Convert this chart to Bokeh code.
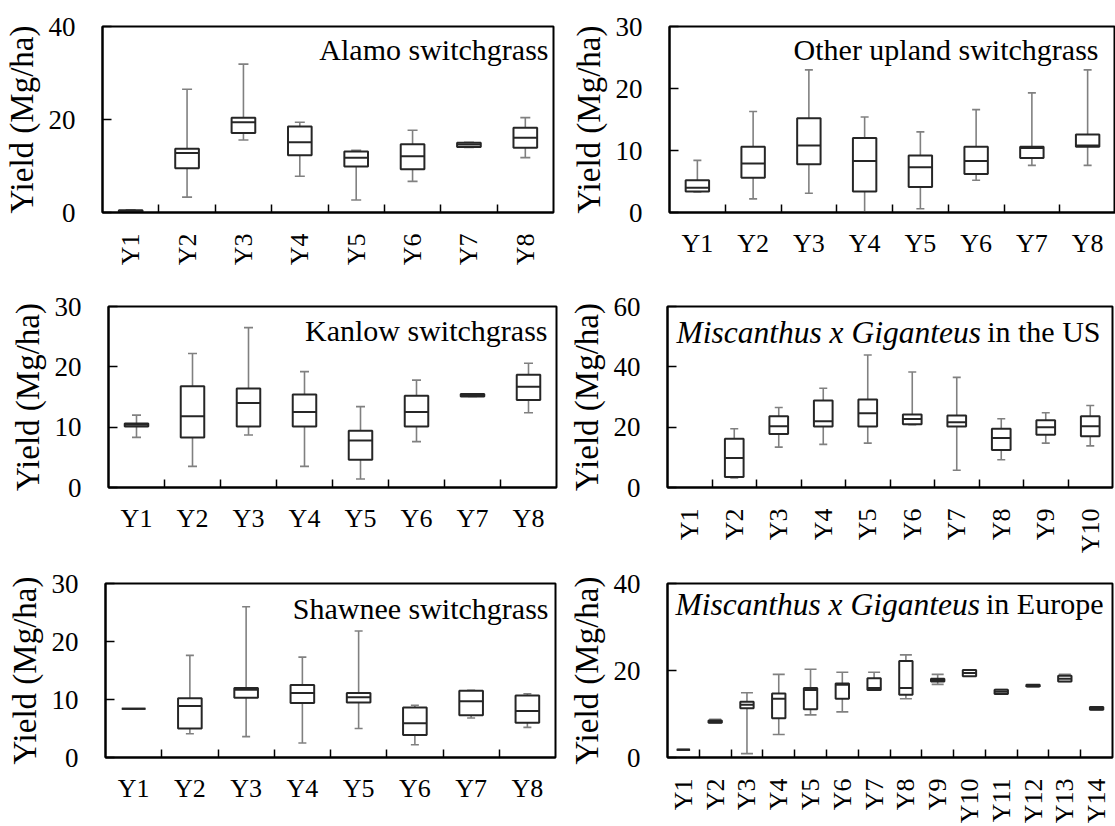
import numpy as np
from bokeh.plotting import figure
from bokeh.models import FixedTicker, Label, ColumnDataSource, Range1d
from bokeh.layouts import column, row
from bokeh.embed import file_html
from bokeh.resources import INLINE

FONT = "'Liberation Serif', 'Times New Roman', serif"

# ---------------- data (Mg/ha) ----------------
years8 = ["Y1", "Y2", "Y3", "Y4", "Y5", "Y6", "Y7", "Y8"]
years10 = ["Y1", "Y2", "Y3", "Y4", "Y5", "Y6", "Y7", "Y8", "Y9", "Y10"]
years14 = ["Y1", "Y2", "Y3", "Y4", "Y5", "Y6", "Y7", "Y8", "Y9", "Y10",
           "Y11", "Y12", "Y13", "Y14"]

alamo_lo = [0.0, 3.3, 15.6, 7.8, 2.7, 6.7, 14.0, 11.8]
alamo_q1 = [0.0, 9.5, 17.1, 12.3, 9.9, 9.3, 14.1, 13.9]
alamo_med = [0.3, 12.8, 19.4, 15.1, 11.8, 12.1, 14.6, 16.1]
alamo_q3 = [0.5, 13.7, 20.4, 18.5, 13.1, 14.7, 15.0, 18.2]
alamo_hi = [0.6, 26.5, 31.9, 19.4, 13.4, 17.7, 15.1, 20.4]

upland_lo = [3.3, 2.2, 3.1, 0.0, 0.6, 5.2, 7.6, 7.6]
upland_q1 = [3.4, 5.6, 7.8, 3.4, 4.1, 6.2, 8.8, 10.6]
upland_med = [4.0, 7.9, 10.8, 8.3, 7.3, 8.3, 10.4, 10.8]
upland_q3 = [5.2, 10.6, 15.2, 12.0, 9.2, 10.6, 10.6, 12.6]
upland_hi = [8.4, 16.3, 23.0, 15.4, 13.0, 16.6, 19.3, 23.0]

kanlow_lo = [8.3, 3.5, 8.7, 3.5, 1.4, 7.6, 15.1, 12.4]
kanlow_q1 = [10.1, 8.3, 10.1, 10.1, 4.6, 10.1, 15.1, 14.5]
kanlow_med = [10.4, 11.8, 14.0, 12.5, 7.8, 12.5, 15.3, 16.7]
kanlow_q3 = [10.6, 16.8, 16.4, 15.4, 9.4, 15.2, 15.5, 18.7]
kanlow_hi = [12.0, 22.2, 26.5, 19.2, 13.4, 17.8, 15.5, 20.6]

mxg_us_lo = [None, 3.2, 13.4, 14.3, 14.7, 20.8, 5.7, 9.2, 14.7, 13.8]
mxg_us_q1 = [None, 3.5, 17.7, 20.2, 20.2, 21.0, 20.2, 12.4, 17.5, 17.0]
mxg_us_med = [None, 9.8, 20.3, 22.0, 24.6, 22.7, 21.6, 16.4, 20.0, 20.3]
mxg_us_q3 = [None, 16.2, 23.6, 28.8, 29.2, 24.2, 23.9, 19.5, 22.3, 23.6]
mxg_us_hi = [None, 19.5, 26.5, 32.9, 43.9, 38.3, 36.5, 22.8, 24.8, 27.2]

shawnee_lo = [8.4, 4.1, 3.6, 2.5, 5.0, 2.2, 6.8, 5.2]
shawnee_q1 = [8.4, 5.0, 10.3, 9.4, 9.5, 3.9, 7.3, 6.0]
shawnee_med = [8.4, 8.9, 11.7, 11.1, 10.4, 5.9, 9.7, 8.0]
shawnee_q3 = [8.4, 10.2, 12.0, 12.5, 11.1, 8.6, 11.5, 10.7]
shawnee_hi = [8.4, 17.6, 26.0, 17.3, 21.8, 9.0, 11.6, 11.0]

mxg_eu_lo = [1.8, 8.0, 0.9, 5.3, 9.8, 10.5, 15.5, 13.5, 16.8, 18.7, 14.6, 16.3, 17.5, 11.0]
mxg_eu_q1 = [1.8, 8.0, 11.3, 9.0, 11.1, 13.5, 15.5, 14.4, 17.5, 18.7, 14.6, 16.3, 17.5, 11.0]
mxg_eu_med = [1.8, 8.2, 12.1, 13.5, 15.5, 16.7, 16.0, 16.0, 17.8, 19.4, 15.1, 16.5, 18.1, 11.3]
mxg_eu_q3 = [1.8, 8.5, 12.8, 14.7, 16.0, 17.0, 18.2, 22.2, 18.1, 20.1, 15.6, 16.7, 18.8, 11.6]
mxg_eu_hi = [1.8, 8.8, 14.9, 19.1, 20.3, 19.6, 19.6, 23.6, 19.1, 20.1, 15.6, 16.7, 19.1, 11.6]

y_label = "Yield (Mg/ha)"


def make_panel(cats, lo, q1, med, q3, hi, ymax, yticks, rotate,
               width, height, bl, br, bt, bb, cap_px, titles):
    n = len(cats)
    fw = width - bl - br
    fh = height - bt - bb
    p = figure(width=width, height=height,
               x_range=Range1d(0.5, n + 0.5), y_range=Range1d(0, ymax),
               output_backend="svg", toolbar_location=None,
               min_border_left=bl, min_border_right=br,
               min_border_top=bt, min_border_bottom=bb)
    p.grid.visible = False
    p.outline_line_color = "black"
    p.outline_line_width = 2
    p.background_fill_color = "white"
    p.border_fill_color = "white"

    idx = [i for i in range(n) if lo[i] is not None]
    xs = np.array([i + 1 for i in idx], dtype=float)
    bw = 0.42
    src = ColumnDataSource(dict(
        x=xs,
        lo=np.array([lo[i] for i in idx], dtype=float),
        q1=np.array([q1[i] for i in idx], dtype=float),
        med=np.array([med[i] for i in idx], dtype=float),
        q3=np.array([q3[i] for i in idx], dtype=float),
        hi=np.array([hi[i] for i in idx], dtype=float),
        x0=xs - bw / 2, x1=xs + bw / 2,
    ))
    wcol = "#808080"
    p.segment(x0="x", y0="q3", x1="x", y1="hi", source=src,
              line_color=wcol, line_width=1.6)
    p.segment(x0="x", y0="lo", x1="x", y1="q1", source=src,
              line_color=wcol, line_width=1.6)
    p.scatter(x="x", y="hi", source=src, marker="dash", size=cap_px,
              line_color=wcol, line_width=1.6)
    p.scatter(x="x", y="lo", source=src, marker="dash", size=cap_px,
              line_color=wcol, line_width=1.6)
    p.vbar(x="x", width=bw, bottom="q1", top="q3", source=src,
           fill_color="white", line_color="#262626", line_width=2)
    p.segment(x0="x0", y0="med", x1="x1", y1="med", source=src,
              line_color="#262626", line_width=2)

    # x axis: labels at the centres, ticks between categories
    xa = p.xaxis[0]
    xa.ticker = FixedTicker(ticks=list(range(1, n + 1)),
                            minor_ticks=[i + 0.5 for i in range(1, n)])
    xa.major_label_overrides = {i + 1: c for i, c in enumerate(cats)}
    xa.major_tick_line_color = None
    xa.minor_tick_line_color = "black"
    xa.minor_tick_line_width = 1.5
    xa.minor_tick_in = 8
    xa.minor_tick_out = 0
    xa.axis_line_color = "black"
    xa.axis_line_width = 2
    xa.major_label_text_font = FONT
    xa.major_label_text_font_size = "26px"
    xa.major_label_text_color = "black"
    if rotate:
        xa.major_label_orientation = np.pi / 2
        xa.major_label_standoff = 15
    else:
        xa.major_label_standoff = 10

    ya = p.yaxis[0]
    ya.ticker = FixedTicker(ticks=yticks, minor_ticks=[])
    ya.major_tick_in = 9
    ya.major_tick_out = 0
    ya.major_tick_line_color = "black"
    ya.major_tick_line_width = 1.5
    ya.axis_line_color = "black"
    ya.axis_line_width = 2
    ya.major_label_text_font = FONT
    ya.major_label_text_font_size = "27px"
    ya.major_label_text_color = "black"
    ya.major_label_standoff = 27
    ya.axis_label = y_label
    ya.axis_label_text_font = FONT
    ya.axis_label_text_font_size = "33px"
    ya.axis_label_text_font_style = "normal"
    ya.axis_label_text_color = "black"
    ya.axis_label_standoff = 6

    # title text inside the frame
    for (text, style, align, off_px, top_px, fs) in titles:
        if align == "right":
            xd = (n + 0.5) - off_px * n / fw
        else:
            xd = 0.5 + off_px * n / fw
        yd = ymax - top_px * ymax / fh
        p.add_layout(Label(x=xd, y=yd, text=text, text_font=FONT,
                           text_font_size=fs, text_font_style=style,
                           text_align=align, text_baseline="top",
                           text_color="black"))
    return p


p1 = make_panel(years8, alamo_lo, alamo_q1, alamo_med, alamo_q3, alamo_hi,
                40, [0, 20, 40], True, 560, 280, 102, 7, 26, 68, 10,
                [("Alamo switchgrass", "normal", "right", 5, 6, "30px")])
p2 = make_panel(years8, upland_lo, upland_q1, upland_med, upland_q3, upland_hi,
                30, [0, 10, 20, 30], False, 555, 280, 109, 0, 26, 68, 8,
                [("Other upland switchgrass", "normal", "right", 17, 6, "30px")])
p3 = make_panel(years8, kanlow_lo, kanlow_q1, kanlow_med, kanlow_q3, kanlow_hi,
                30, [0, 10, 20, 30], False, 560, 276, 108, 4, 26, 64, 9,
                [("Kanlow switchgrass", "normal", "right", 9, 8, "30px")])
p4 = make_panel(years10, mxg_us_lo, mxg_us_q1, mxg_us_med, mxg_us_q3, mxg_us_hi,
                60, [0, 20, 40, 60], True, 555, 276, 107, 3, 26, 64, 8,
                [("Miscanthus x Giganteus", "italic", "left", 9, 9, "31.5px"),
                 ("in the US", "normal", "right", 12, 9, "30px")])
p5 = make_panel(years8, shawnee_lo, shawnee_q1, shawnee_med, shawnee_q3, shawnee_hi,
                30, [0, 10, 20, 30], False, 560, 270, 105, 5, 25, 59, 8,
                [("Shawnee switchgrass", "normal", "right", 7, 9, "30px")])
p6 = make_panel(years14, mxg_eu_lo, mxg_eu_q1, mxg_eu_med, mxg_eu_q3, mxg_eu_hi,
                40, [0, 20, 40], True, 555, 270, 107, 3, 27, 59, 12,
                [("Miscanthus x Giganteus", "italic", "left", 8, 4, "31.5px"),
                 ("in Europe", "normal", "right", 9, 4, "30px")])

layout = column(row(p1, p2), row(p3, p4), row(p5, p6))
open("out.html", "w").write(file_html(layout, INLINE))
